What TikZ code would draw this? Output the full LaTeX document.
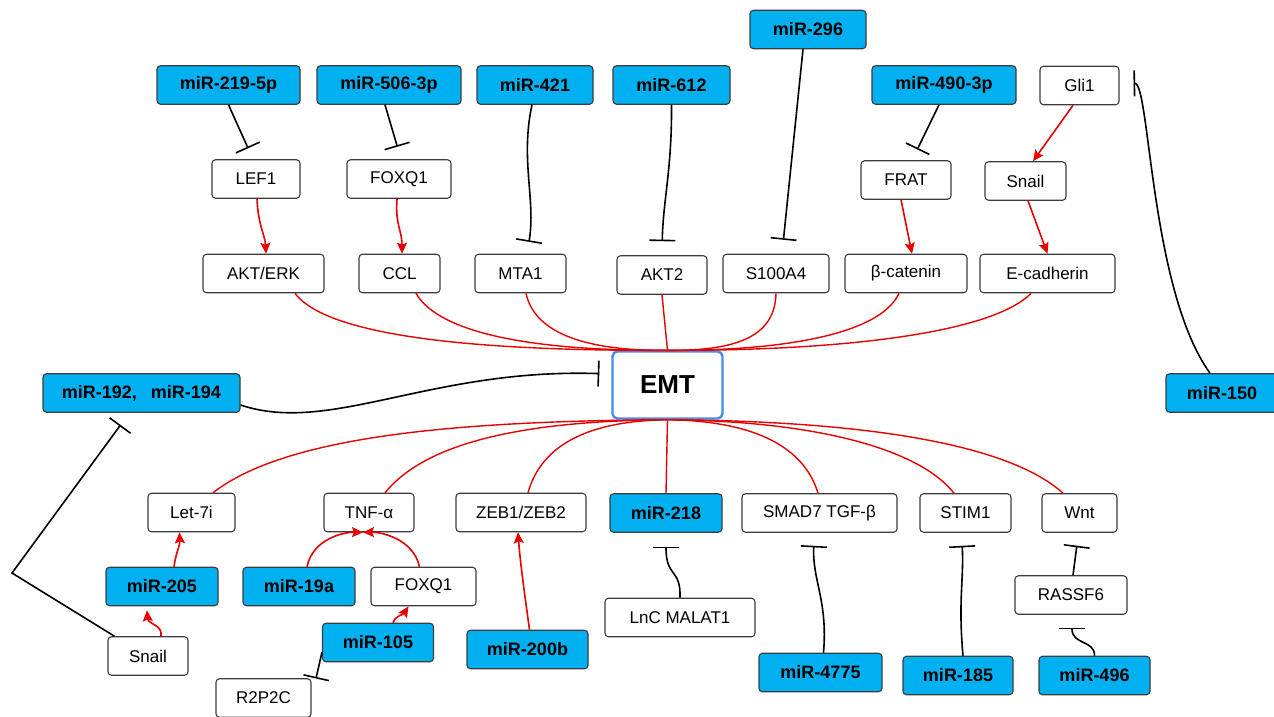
\documentclass[tikz,border=0pt]{standalone}
\usepackage{fontspec}
\setmainfont{Liberation Sans}
\usetikzlibrary{arrows.meta,calc}
\definecolor{mirblue}{RGB}{0,176,240}
\definecolor{boxgray}{RGB}{60,60,60}
\definecolor{emtblue}{RGB}{70,140,235}
\definecolor{linkred}{RGB}{230,0,0}
\begin{document}
\begin{tikzpicture}[x=1pt,y=-1pt,
 box/.style={draw=boxgray, line width=1.1pt, rounded corners=3.5pt, inner sep=0pt, minimum height=38.5pt, font=\fontsize{17}{19}\selectfont},
 mir/.style={box, fill=mirblue, font=\fontsize{18}{20}\selectfont\bfseries},
 gene/.style={box, fill=white},
 emtbox/.style={draw=emtblue, line width=2.4pt, rounded corners=5pt, fill=white, inner sep=0pt, minimum width=110pt, minimum height=67pt, font=\fontsize{26}{28}\selectfont\bfseries},
 inh/.style={draw=black, line width=1.6pt, -{Bar[width=26pt,line width=1.6pt]}, shorten >=#1},
 inh/.default=12pt,
 act/.style={draw=linkred, line width=1.6pt, -{Stealth[length=11pt,width=10pt,inset=2pt]}},
 link/.style={draw=linkred, line width=1.4pt},
]
\useasboundingbox (0,0) rectangle (1274,716);
\fill[white] (0,0) rectangle (1274,716);

% ---------- nodes ----------
\node[mir, minimum width=143pt] (m219) at (228.5,85) {miR-219-5p};
\node[mir, minimum width=144pt] (m506) at (389,85) {miR-506-3p};
\node[mir, minimum width=116pt] (m421) at (535,85) {miR-421};
\node[mir, minimum width=117pt] (m612) at (671.5,85) {miR-612};
\node[mir, minimum width=116pt] (m296) at (808,29.5) {miR-296};
\node[mir, minimum width=144pt] (m490) at (944,85) {miR-490-3p};
\node[gene, minimum width=79pt] (gli1) at (1079.5,85.5) {Gli1};
\node[gene, minimum width=88pt] (lef1) at (256,179) {LEF1};
\node[gene, minimum width=104pt] (foxqa) at (399,179) {FOXQ1};
\node[gene, minimum width=90pt] (frat) at (906,180) {FRAT};
\node[gene, minimum width=81pt] (snailr) at (1025.5,181) {Snail};
\node[gene, minimum width=121pt] (akterk) at (263.5,273.5) {AKT/ERK};
\node[gene, minimum width=81pt] (ccl) at (399.5,273.5) {CCL};
\node[gene, minimum width=91pt] (mta1) at (520.5,273.5) {MTA1};
\node[gene, minimum width=90pt] (akt2) at (662,275) {AKT2};
\node[gene, minimum width=106pt] (s100) at (776,273.5) {S100A4};
\node[gene, minimum width=122pt] (bcat) at (906,273.5) {β-catenin};
\node[gene, minimum width=135pt] (ecad) at (1047.5,273.5) {E-cadherin};
\node[emtbox] (emt) at (667.5,385) {EMT};
\node[mir, minimum width=197pt] (m192) at (141.5,393) {miR-192,\hspace{0.5em} miR-194};
\node[mir, minimum width=112pt] (m150) at (1222,393) {miR-150};
\node[gene, minimum width=87pt] (let7i) at (191.5,512.5) {Let-7i};
\node[gene, minimum width=90pt] (tnf) at (369,512.5) {TNF-α};
\node[gene, minimum width=130pt] (zeb) at (521,512.5) {ZEB1/ZEB2};
\node[mir, minimum width=112pt] (m218) at (666,513) {miR-218};
\node[gene, minimum width=155pt] (smad) at (819.5,513) {SMAD7 TGF-β};
\node[gene, minimum width=91pt] (stim1) at (965.5,513) {STIM1};
\node[gene, minimum width=75pt] (wnt) at (1079.5,513) {Wnt};
\node[mir, minimum width=112pt] (m205) at (162,586.5) {miR-205};
\node[mir, minimum width=112pt] (m19a) at (299,586.5) {miR-19a};
\node[gene, minimum width=105pt] (foxqb) at (423.5,586.5) {FOXQ1};
\node[gene, minimum width=150pt] (lnc) at (680,617.5) {LnC MALAT1};
\node[gene, minimum width=112pt] (rassf6) at (1071,595) {RASSF6};
\node[mir, minimum width=111pt] (m105) at (378,642.5) {miR-105};
\node[mir, minimum width=121pt] (m200b) at (527.5,649.5) {miR-200b};
\node[gene, minimum width=80pt] (snailb) at (148,656) {Snail};
\node[gene, minimum width=95pt] (r2p2c) at (263.5,698) {R2P2C};
\node[mir, minimum width=123pt] (m4775) at (820.5,672.5) {miR-4775};
\node[mir, minimum width=110pt] (m185) at (958,675.5) {miR-185};
\node[mir, minimum width=111pt] (m496) at (1094.5,675.5) {miR-496};
\coordinate (bendL) at (12,573);

% ---------- red links into EMT (top) ----------
\draw[link] ($(akterk.south)+(31.5,0)$) .. controls (330,340) and (500,351) .. (emt.north);
\draw[link] ($(ccl.south)+(16.5,0)$) .. controls (440,335) and (540,351) .. (emt.north);
\draw[link] ($(mta1.south)+(5.5,0)$) .. controls (535,335) and (590,351) .. (emt.north);
\draw[link] (akt2.south) -- (emt.north);
\draw[link] (s100.south) .. controls (775,335) and (740,351) .. (emt.north);
\draw[link] ($(bcat.south)+(-7,0)$) .. controls (880,335) and (780,351) .. (emt.north);
\draw[link] ($(ecad.south)+(-16.5,0)$) .. controls (990,335) and (830,351) .. (emt.north);

% ---------- red links from EMT (bottom) ----------
\draw[link] (emt.south) .. controls (450,421) and (285,437) .. ($(let7i.north)+(21.5,0)$);
\draw[link] (emt.south) .. controls (500,421) and (420,450) .. ($(tnf.north)+(16,0)$);
\draw[link] (emt.south) .. controls (580,421) and (540,450) .. ($(zeb.north)+(7,0)$);
\draw[link] (emt.south) -- (m218.north);
\draw[link] (emt.south) .. controls (760,421) and (805,450) .. ($(smad.north)+(-1.5,0)$);
\draw[link] (emt.south) .. controls (820,421) and (920,450) .. ($(stim1.north)+(-11.5,0)$);
\draw[link] (emt.south) .. controls (870,421) and (1010,445) .. ($(wnt.north)+(-16.5,0)$);

% ---------- red activations ----------
\draw[act] ($(lef1.south)+(1,0)$) .. controls (258,225) and (265,235) .. ($(akterk.north)+(2.5,0)$);
\draw[act] ($(foxqa.south)+(-2,0)$) .. controls (395,225) and (402,230) .. ($(ccl.north)+(2.5,0)$);
\draw[act] ($(frat.south)+(-5,0)$) -- ($(bcat.north)+(6,0)$);
\draw[act] ($(gli1.south)+(-6.5,0)$) -- ($(snailr.north)+(7.5,0)$);
\draw[act] ($(snailr.south)+(2.5,0)$) -- (ecad.north);
\draw[act] ($(m205.north)+(12,0)$) .. controls (176,552) and (180,546) .. ($(let7i.south)+(-12,0)$);
\draw[act] ($(snailb.north)+(13,0)$) .. controls (163,625) and (148,624) .. ($(m205.south)+(-15,4)$);
\draw[act] ($(m19a.north)+(8,0)$) .. controls (313,538) and (345,532) .. ($(tnf.south)+(-6,0)$);
\draw[act] ($(foxqb.north)+(-4,0)$) .. controls (413,538) and (380,532) .. ($(tnf.south)+(-6,0)$);
\draw[act] ($(m105.north)+(15,0)$) .. controls (396,615) and (403,615) .. ($(foxqb.south)+(-15,0)$);
\draw[act] ($(m200b.north)+(2,0)$) .. controls (524,590) and (520,560) .. ($(zeb.south)+(-3,0)$);

% ---------- inhibitions ----------
\draw[inh] (m219.south) -- ([xshift=-3pt]lef1.north);
\draw[inh=13pt] ([xshift=-4pt]m506.south) -- ([xshift=2pt]foxqa.north);
\draw[inh] ([xshift=-3pt]m421.south) .. controls (520,160) and (536,200) .. ([xshift=6.5pt]mta1.north);
\draw[inh=14pt] (m612.south) .. controls (672,170) and (663,200) .. (akt2.north);
\draw[inh=14pt] ([xshift=-5pt]m296.south) -- ([xshift=6pt]s100.north);
\draw[inh] ([xshift=-5pt]m490.south) -- ([xshift=6pt]frat.north);
\draw[inh=14pt] ([xshift=-12pt]m150.north) .. controls (1150,290) and (1150,83) .. ([yshift=2pt]gli1.east);
\draw[inh] ([yshift=-12pt]m192.east) .. controls (330,435) and (430,368) .. ([yshift=11pt]emt.west);
\draw[inh=15pt] ($(snailb.north west)+(7,0)$) -- (bendL) -- ($(m192.south west)+(87,0)$);
\draw[inh=20pt] ([yshift=10pt]m105.south west) -- (r2p2c.east);
\draw[inh=14pt] (lnc.north) .. controls (681,568) and (666,578) .. (m218.south);
\draw[inh=13pt] ([xshift=3pt]m4775.north) .. controls (828,600) and (812,580) .. ([xshift=-5pt]smad.south);
\draw[inh=13pt] ([xshift=5pt]m185.north) .. controls (958,600) and (964,580) .. ([xshift=-4pt]stim1.south);
\draw[inh=13pt] ([xshift=2pt]rassf6.north) -- ([xshift=-1pt]wnt.south);
\draw[inh=13pt] (m496.north) .. controls (1095,640) and (1072,645) .. ([xshift=1pt]rassf6.south);
\end{tikzpicture}
\end{document}
